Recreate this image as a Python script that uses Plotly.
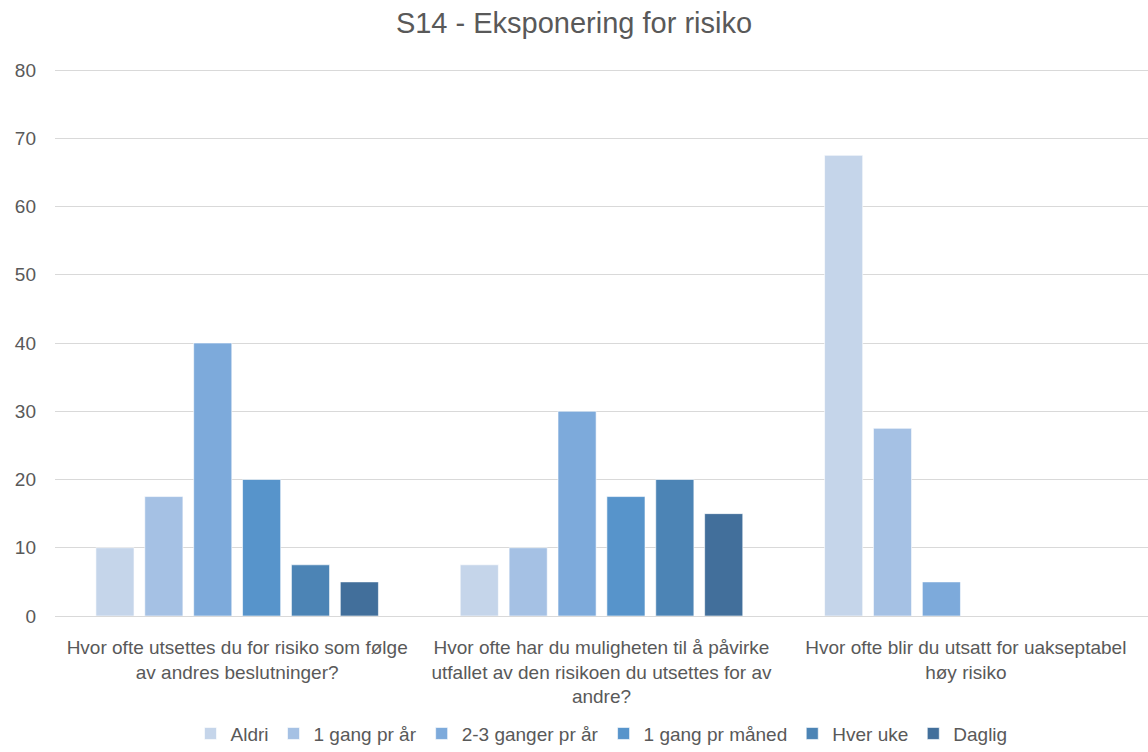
import plotly.graph_objects as go

categories = [
    "Hvor ofte utsettes du for risiko som følge<br>av andres beslutninger?",
    "Hvor ofte har du muligheten til å påvirke<br>utfallet av den risikoen du utsettes for av<br>andre?",
    "Hvor ofte blir du utsatt for uakseptabel<br>høy risiko",
]
series_names = ["Aldri", "1 gang pr år", "2-3 ganger pr år", "1 gang pr måned", "Hver uke", "Daglig"]
aldri = [10, 7.5, 67.5]
en_gang_aar = [17.5, 10, 27.5]
to_tre_ganger = [40, 30, 5]
en_gang_maaned = [20, 17.5, 0]
hver_uke = [7.5, 20, 0]
daglig = [5, 15, 0]
values = [aldri, en_gang_aar, to_tre_ganger, en_gang_maaned, hver_uke, daglig]
colors = ["#C5D5EA", "#A5C1E4", "#7DAADB", "#5794CB", "#4C84B5", "#426F9B"]
y_ticks = [0, 10, 20, 30, 40, 50, 60, 70, 80]

FONT = "Liberation Sans"
fig = go.Figure()
for name, vals, col in zip(series_names, values, colors):
    fig.add_trace(go.Bar(
        x=categories, y=vals, name=name,
        marker=dict(color=col, line=dict(color="rgba(255,255,255,0.6)", width=1)),
    ))

fig.update_layout(
    width=1148, height=752,
    paper_bgcolor="white", plot_bgcolor="white",
    margin=dict(l=55, r=0, t=69, b=136, autoexpand=False),
    barmode="group", bargap=0.195, bargroupgap=0.22,
    title=dict(text="S14 - Eksponering for risiko", x=0.5, xanchor="center",
               y=0.97, yanchor="middle",
               font=dict(family=FONT, size=29, color="#595959")),
    font=dict(family=FONT, color="#595959"),
    legend=dict(orientation="h", x=0.5, xanchor="center", y=-0.215, yanchor="middle",
                font=dict(size=19, color="#595959"), itemwidth=30, traceorder="normal"),
    showlegend=True,
)
fig.update_xaxes(showgrid=False, showline=False, ticks="", tickfont=dict(size=19, color="#595959"),
                 automargin=False, ticklabelstandoff=18)
fig.update_yaxes(range=[0, 80.15], tickvals=y_ticks, showgrid=True, gridcolor="#D9D9D9", gridwidth=1,
                 zeroline=True, zerolinecolor="#D9D9D9", zerolinewidth=1,
                 showline=False, ticks="", tickfont=dict(size=19, color="#595959"),
                 automargin=False, ticklabelstandoff=18)

fig.write_html("out.html")
